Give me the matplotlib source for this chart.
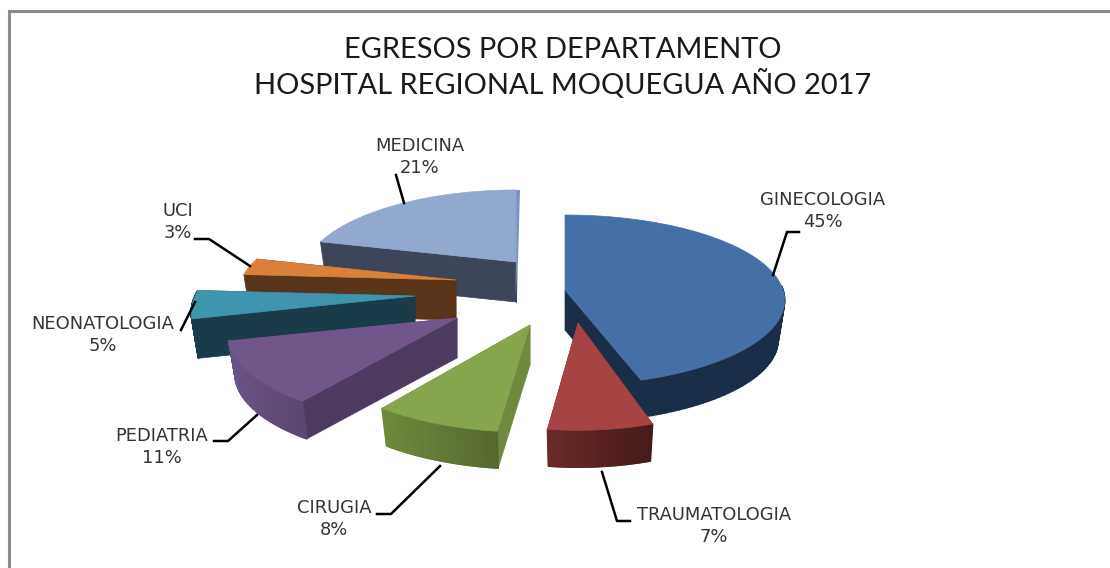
import numpy as np
import matplotlib
matplotlib.use('Agg')
import matplotlib.pyplot as plt
from matplotlib.collections import PolyCollection
from matplotlib.colors import to_rgb

# ============================================================
# Data
# ============================================================
categories = ['GINECOLOGIA', 'TRAUMATOLOGIA', 'CIRUGIA', 'PEDIATRIA',
              'NEONATOLOGIA', 'UCI', 'MEDICINA']
values = [45, 7, 8, 11, 5, 3, 21]
title_lines = ['EGRESOS POR DEPARTAMENTO', 'HOSPITAL REGIONAL MOQUEGUA AÑO 2017']

# ============================================================
# Look: one entry per slice, same order as categories
# ============================================================
top_colors = ['#4570A7', '#A54442', '#87A54C', '#71568C', '#3F95AE', '#D9803A', '#93A8CE']
side_colors = ['#1B2E48', '#5E2525', '#71883F', '#4C3A5F', '#1A3B48', '#5A3418', '#3D4559']
arc_left = ['#1B2E48', '#6B2A2A', '#6F8A3C', '#6A5285', '#1A3B48', '#5A3418', '#3D4559']
arc_right = ['#1B2E48', '#471A1A', '#55682E', '#5B4674', '#1A3B48', '#5A3418', '#3D4559']
# where each exploded slice has its tip, in pixels
tips = [(565, 290), (578, 323), (530, 325), (457, 318), (415, 296), (456, 280), (516, 262)]
draw_order = [6, 5, 4, 3, 0, 2, 1]

# the 3D view is not the same for every slice in the reference
radius_x = [218, 200, 215, 225, 220, 215, 211]
radius_y = [84, 88, 88, 88, 88, 88, 85]
persp = [0.12, 0.18, 0.18, 0.18, 0.18, 0.18, 0.18]
DEPTH, SHRINK = 40.0, 0.97          # extrusion height, bottom face scale

# label centre (two lines) and elbow leader line
label_pos = [(823, 211), (714, 526), (334, 519), (162, 447), (103, 335), (178, 222), (420, 157)]
leaders = [
    [(799, 232), (787, 232), (773, 275)],
    [(630, 521), (617, 521), (602, 472)],
    [(377, 514), (391, 514), (440, 466)],
    [(214, 441), (228, 441), (257, 415)],
    [(181, 330), (195, 302)],
    [(195, 239), (209, 239), (250, 266)],
    [(396, 175), (404, 203)],
]

plt.rcParams['font.family'] = ['Lato', 'DejaVu Sans']


def rim(theta, i, bottom=False):
    """Screen position of a rim point, theta clockwise from 12 o'clock."""
    front = -np.cos(theta)
    s = 1.0 / (1.0 - persp[i] * front)
    x = radius_x[i] * s * np.sin(theta)
    y = radius_y[i] * s * front
    if bottom:
        return np.column_stack([tips[i][0] + x * SHRINK, tips[i][1] + y * SHRINK + DEPTH])
    return np.column_stack([tips[i][0] + x, tips[i][1] + y])


def mix(c1, c2, t):
    a, b = np.array(to_rgb(c1)), np.array(to_rgb(c2))
    return tuple(a + (b - a) * t)


fig = plt.figure(figsize=(11.10, 5.68), dpi=100)
ax = fig.add_axes([0, 0, 1, 1])
ax.set_xlim(0, 1110)
ax.set_ylim(568, 0)
ax.axis('off')

# chart frame: only left and top show, both run off the picture
ax.plot([9, 9, 1112], [570, 11, 11], color='#8C8C8C', lw=2.2, solid_joinstyle='miter')

# ============================================================
# Slices
# ============================================================
edges = np.cumsum([0] + values) / sum(values) * 2 * np.pi

for i in draw_order:
    t = np.linspace(edges[i], edges[i + 1], 90)
    tip = tips[i]
    top = rim(t, i)
    low = rim(t, i, bottom=True)
    tip_low = (tip[0], tip[1] + DEPTH)
    z = 3 + draw_order.index(i)

    # two radial walls, the upper one on screen first
    walls = [[tip, top[k], low[k], tip_low] for k in (0, -1)]
    walls.sort(key=lambda w: w[1][1])
    for w in walls:
        ax.fill(*zip(*w), color=side_colors[i], lw=0.5, zorder=z)

    # outer wall: only the part turned to the viewer, with a shade across it
    quads, shades = [], []
    for j in range(len(t) - 1):
        if -np.cos(t[j]) > -0.05:
            quads.append([top[j], top[j + 1], low[j + 1], low[j]])
            frac = (top[j][0] - top[:, 0].min()) / max(np.ptp(top[:, 0]), 1)
            shades.append(mix(arc_left[i], arc_right[i], frac))
    if quads:
        ax.add_collection(PolyCollection(quads, facecolors=shades, edgecolors=shades,
                                         linewidths=1.2, zorder=z))

    # medicina shows a thin sliver of its straight edge on the right
    if categories[i] == 'MEDICINA':
        ax.fill([top[-1][0], top[-1][0] + 4, tip[0] + 1, tip[0]],
                [top[-1][1], top[-1][1], tip_low[1] - 5, tip[1]], color='#7C93BD', lw=0, zorder=z)
        ax.fill([tip[0], tip[0] + 1, tip[0] - 1, tip[0] - 1],
                [tip[1], tip[1], tip_low[1] - 5, tip_low[1] - 5], color='#7C93BD', lw=0, zorder=z)

    # top face
    face = np.vstack([[tip], top])
    ax.fill(face[:, 0], face[:, 1], color=top_colors[i], lw=0.5, zorder=z)

# ============================================================
# Labels and title
# ============================================================
for name, val, pos, line in zip(categories, values, label_pos, leaders):
    ax.text(pos[0], pos[1], f'{name}\n{val}%', ha='center', va='center', fontsize=12.9,
            family='DejaVu Sans', color='#333333', linespacing=1.22, zorder=30)
    ax.plot(*zip(*line), color='black', lw=1.8, zorder=30)

ax.text(563, 50, title_lines[0], ha='center', va='center', fontsize=20.9, color='#1A1A1A')
ax.text(563, 84, title_lines[1], ha='center', va='center', fontsize=20.9, color='#1A1A1A')

fig.savefig('out.png', dpi=100)
